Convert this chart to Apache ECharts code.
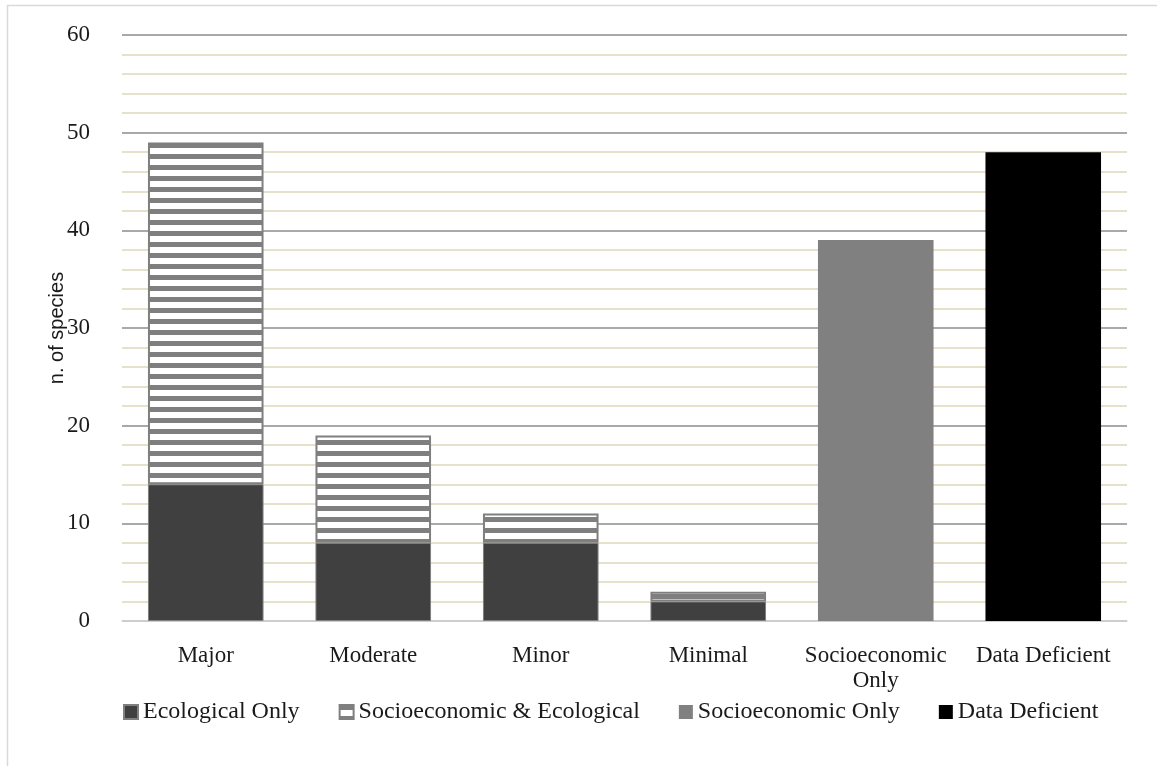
<!DOCTYPE html>
<html>
<head>
<meta charset="utf-8">
<script src="https://cdn.jsdelivr.net/npm/echarts@6/dist/echarts.min.js"></script>
<style>html,body{margin:0;padding:0;background:#fff;}#c{width:1157px;height:766px;}</style>
</head>
<body>
<div id="c"></div>
<script>
var categories = ['Major', 'Moderate', 'Minor', 'Minimal', 'Socioeconomic\nOnly', 'Data Deficient'];
var ecologicalOnly = [14, 8, 8, 2, null, null];
var socioEco = [35, 11, 3, 1, null, null];
var socioOnly = [null, null, null, null, 39, null];
var dataDeficient = [null, null, null, null, null, 48];
var yTicks = [0, 10, 20, 30, 40, 50, 60];
var yAxisTitle = 'n. of species';

var pc = document.createElement('canvas');
pc.width = 8; pc.height = 11;
var g = pc.getContext('2d');
g.fillStyle = '#ffffff'; g.fillRect(0, 0, 8, 11);
g.fillStyle = '#7f7f7f'; g.fillRect(0, 0, 8, 5);
var hatch = { image: pc, repeat: 'repeat' };

var serif = 'Liberation Serif';
var chart = echarts.init(document.getElementById('c'));
chart.setOption({
  backgroundColor: '#fff',
  animation: false,
  graphic: [
    { type: 'rect', shape: { x: 7.5, y: 5.5, width: 1200, height: 800 }, style: { fill: 'none', stroke: '#d9d9d9', lineWidth: 1.5 }, silent: true },
    { type: 'text', x: 57, y: 328, rotation: Math.PI / 2,
      style: { text: yAxisTitle, font: '20px "Liberation Sans"', fill: '#1a1a1a', textAlign: 'center', textVerticalAlign: 'middle' } }
  ],
  grid: { left: 122, right: 30, top: 35, bottom: 145 },
  legend: {
    bottom: 37, left: 118, itemGap: 39, itemWidth: 14, itemHeight: 14, icon: 'rect',
    textStyle: { fontFamily: serif, fontSize: 24, color: '#1a1a1a' },
    data: ['Ecological Only', 'Socioeconomic & Ecological', 'Socioeconomic Only', 'Data Deficient']
  },
  xAxis: {
    type: 'category', data: categories,
    axisLine: { lineStyle: { color: '#d9d9d9', width: 1.5 } },
    axisTick: { show: false },
    axisLabel: { interval: 0, hideOverlap: false, fontFamily: serif, fontSize: 23, color: '#1a1a1a', margin: 22, lineHeight: 25 }
  },
  yAxis: {
    type: 'value', min: 0, max: 60, interval: 10,
    axisLine: { show: false }, axisTick: { show: false },
    axisLabel: { fontFamily: serif, fontSize: 23, color: '#1a1a1a', margin: 32,
      formatter: function (v) { return yTicks.indexOf(v) >= 0 ? String(v) : ''; } },
    splitLine: { lineStyle: { color: '#8c8c8c', width: 1.5 } },
    minorTick: { show: false, splitNumber: 5 },
    minorSplitLine: { show: true, lineStyle: { color: '#e6e1cb', width: 2 } }
  },
  series: [
    { name: 'Ecological Only', type: 'bar', stack: 's', barWidth: '69%', data: ecologicalOnly,
      itemStyle: { color: '#404040', borderColor: '#808080', borderWidth: 1 } },
    { name: 'Socioeconomic & Ecological', type: 'bar', stack: 's', data: socioEco,
      itemStyle: { color: hatch, borderColor: '#7f7f7f', borderWidth: 2 } },
    { name: 'Socioeconomic Only', type: 'bar', stack: 's', data: socioOnly,
      itemStyle: { color: '#808080' } },
    { name: 'Data Deficient', type: 'bar', stack: 's', data: dataDeficient,
      itemStyle: { color: '#000000' } }
  ]
});
</script>
</body>
</html>
